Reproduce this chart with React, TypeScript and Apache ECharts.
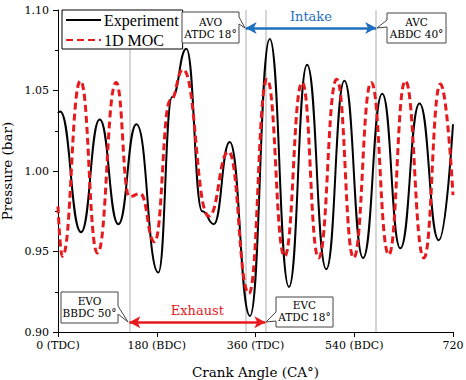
import React, { useEffect, useRef } from "react";
import * as echarts from "echarts";

const crankAngleExp = [0, 4, 42, 76, 110, 143, 183, 208, 234, 263, 284, 313, 350, 386, 421, 454, 489, 522, 556, 591, 624, 659, 694, 720];
const pressureExp = [1.036, 1.037, 0.962, 1.032, 0.967, 1.029, 0.937, 1.046, 1.076, 0.975, 0.967, 1.018, 0.910, 1.082, 0.928, 1.066, 0.939, 1.056, 0.946, 1.048, 0.952, 1.042, 0.957, 1.029];

const crankAngleMoc = [0, 8, 41, 72, 106, 130, 150, 176, 205, 228, 275, 311, 348, 381, 413, 445, 475, 508, 539, 571, 603, 633, 667, 697, 720];
const pressureMoc = [0.978, 0.947, 1.056, 0.949, 1.055, 0.984, 0.986, 0.956, 1.044, 1.063, 0.972, 1.012, 0.924, 1.057, 0.947, 1.055, 0.946, 1.057, 0.946, 1.055, 0.948, 1.056, 0.946, 1.054, 0.985];

const xTickValues = [0, 180, 360, 540, 720];
const xTickLabels = ["0 (TDC)", "180 (BDC)", "360 (TDC)", "540 (BDC)", "720"];

// valve events: EVO, AVO, EVC, AVC (crank angle)
const eventAngles = [130, 342, 378, 580];
const intakeRange = [342, 580];
const exhaustRange = [130, 378];
const intakeLevel = 1.0888;
const exhaustLevel = 0.906;

const FONT = "Liberation Serif";
const SERIF = "DejaVu Serif";
const RED = "#e8191c";
const BLUE = "#1f6fbf";

export default function App() {
  const ref = useRef<HTMLDivElement>(null);
  useEffect(() => {
    if (!ref.current) return;
    const chart = echarts.init(ref.current, null, { renderer: "svg" });
    const expData = crankAngleExp.map((x, i) => [x, pressureExp[i]]);
    const mocData = crankAngleMoc.map((x, i) => [x, pressureMoc[i]]);

    const callout = (pts: number[][], cx: number, cy: number, text: string) => [
      {
        type: "polygon",
        z: 100,
        shape: { points: pts },
        style: { fill: "#fff", stroke: "#444", lineWidth: 1 },
      },
      {
        type: "text",
        z: 101,
        x: cx,
        y: cy,
        style: {
          text,
          fontSize: 10.5,
          fontFamily: SERIF,
          fill: "#000",
          align: "center",
          verticalAlign: "middle",
          lineHeight: 12.5,
        },
      },
    ];

    chart.setOption({
      animation: false,
      backgroundColor: "#fff",
      textStyle: { fontFamily: SERIF },
      grid: { left: 58, right: 13, top: 10, bottom: 48, containLabel: false, outerBoundsMode: "none" },
      legend: {
        left: 62,
        top: 10,
        orient: "vertical",
        backgroundColor: "#fff",
        borderColor: "#000",
        borderWidth: 1,
        padding: [2, 4, 1, 3],
        itemWidth: 35,
        itemHeight: 16,
        itemGap: 4,
        itemStyle: { opacity: 0 },
        textStyle: { fontFamily: FONT, fontSize: 16, color: "#000", padding: [0, 0, 0, -2] },
        data: ["Experiment", "1D MOC"],
      },
      xAxis: {
        type: "value",
        min: 0,
        max: 720,
        interval: 180,
        name: "Crank Angle (CA°)",
        nameLocation: "middle",
        nameGap: 33,
        nameTextStyle: { fontFamily: SERIF, fontSize: 13.5, color: "#000" },
        axisLine: { show: true, lineStyle: { color: "#000", width: 1 } },
        axisTick: { show: true, inside: false, length: 5, lineStyle: { color: "#000" } },
        axisLabel: {
          fontFamily: SERIF,
          fontSize: 11,
          color: "#000",
          margin: 8,
          formatter: (v: number) => {
            const i = xTickValues.indexOf(v);
            return i >= 0 ? xTickLabels[i] : "";
          },
        },
        splitLine: { show: false },
      },
      yAxis: {
        type: "value",
        min: 0.9,
        max: 1.1,
        interval: 0.05,
        name: "Pressure (bar)",
        nameLocation: "middle",
        nameGap: 44,
        nameTextStyle: { fontFamily: SERIF, fontSize: 13.5, color: "#000" },
        axisLine: { show: true, lineStyle: { color: "#000", width: 1 } },
        axisTick: { show: true, inside: false, length: 5, lineStyle: { color: "#000" } },
        minorTick: { show: true, splitNumber: 2, length: 3, lineStyle: { color: "#000" } },
        axisLabel: {
          fontFamily: SERIF,
          fontSize: 11,
          color: "#000",
          margin: 9,
          formatter: (v: number) => v.toFixed(2),
        },
        splitLine: { show: false },
      },
      series: [
        {
          name: "Experiment",
          type: "line",
          data: expData,
          smooth: 0.5,
          smoothMonotone: "x",
          symbol: "none",
          z: 3,
          lineStyle: { color: "#000", width: 2, type: "solid" },
          itemStyle: { color: "#000" },
          markLine: {
            silent: true,
            symbol: ["none", "none"],
            z: 1,
            label: { show: false },
            lineStyle: { color: "#c8c8c8", width: 1.5, type: "solid" },
            data: eventAngles.map((a) => ({ xAxis: a })),
          },
        },
        {
          name: "1D MOC",
          type: "line",
          data: mocData,
          smooth: 0.5,
          smoothMonotone: "x",
          symbol: "none",
          z: 4,
          lineStyle: { color: RED, width: 3, type: [7, 4] },
          itemStyle: { color: RED },
          markLine: {
            silent: true,
            symbol: ["arrow", "arrow"],
            symbolSize: [9, 11],
            precision: 4,
            data: [
              [
                {
                  coord: [intakeRange[0], intakeLevel],
                  lineStyle: { color: BLUE, width: 2.5, type: "solid" },
                  itemStyle: { color: BLUE },
                  label: {
                    show: true,
                    position: "insideMiddleTop",
                    formatter: "Intake",
                    color: BLUE,
                    fontSize: 13,
                    fontFamily: SERIF,
                    distance: 5,
                  },
                },
                { coord: [intakeRange[1], intakeLevel] },
              ],
              [
                {
                  coord: [exhaustRange[0], exhaustLevel],
                  lineStyle: { color: RED, width: 2.5, type: "solid" },
                  itemStyle: { color: RED },
                  label: {
                    show: true,
                    position: "insideMiddleTop",
                    formatter: "Exhaust",
                    color: RED,
                    fontSize: 13,
                    fontFamily: SERIF,
                    distance: 5,
                  },
                },
                { coord: [exhaustRange[1], exhaustLevel] },
              ],
            ],
          },
        },
      ],
      graphic: [
        ...callout(
          [[182, 12], [239, 12], [239, 17], [245, 28], [239, 24], [239, 43], [182, 43]],
          210.5, 28, "AVO\nATDC 18°"
        ),
        ...callout(
          [[387, 13], [446, 13], [446, 43], [387, 43], [387, 27], [377, 28], [387, 20]],
          416.5, 28, "AVC\nABDC 40°"
        ),
        ...callout(
          [[61, 292], [118, 292], [118, 306], [128, 322], [118, 314], [118, 323], [61, 323]],
          89.5, 307, "EVO\nBBDC 50°"
        ),
        ...callout(
          [[276, 297], [333, 297], [333, 327], [276, 327], [276, 321], [266, 322], [276, 312]],
          304.5, 311, "EVC\nATDC 18°"
        ),
      ],
    });
    return () => chart.dispose();
  }, []);
  return (
    <div
      ref={ref}
      style={{ position: "fixed", left: 0, top: 0, width: 466, height: 380, background: "#fff" }}
    />
  );
}
